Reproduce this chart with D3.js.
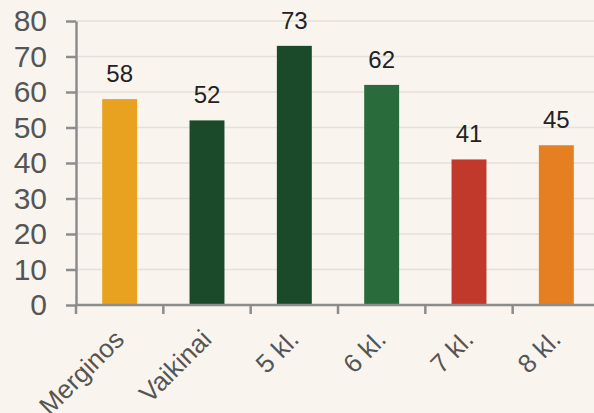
<!DOCTYPE html>
<html>
<head>
<meta charset="utf-8">
<script src="https://cdn.jsdelivr.net/npm/d3@7"></script>
<style>
html,body{margin:0;padding:0;background:#f9f5ee;}
svg{display:block;font-family:"Liberation Sans",Arial,sans-serif;}
</style>
</head>
<body>
<svg id="chart" width="594" height="413"></svg>
<script>
const categories = ["Merginos","Vaikinai","5 kl.","6 kl.","7 kl.","8 kl."];
const values = [58,52,73,62,41,45];
const colors = ["#e8a220","#1b4a2b","#1b4a2b","#2a6b3c","#c0392b","#e67f22"];
const yTicks = [0,10,20,30,40,50,60,70,80];

const svg = d3.select("#chart");
svg.append("rect").attr("width",594).attr("height",413).attr("fill","#f9f5ee");

const x = d3.scaleBand().domain(categories).range([76,600]).paddingInner(0.6).paddingOuter(0.3);
const y = d3.scaleLinear().domain([0,80]).range([305,21]);

// gridlines
svg.append("g").selectAll("line").data(yTicks.slice(1)).join("line")
  .attr("x1",76).attr("x2",600)
  .attr("y1",d=>y(d)).attr("y2",d=>y(d))
  .attr("stroke","#e4e1da").attr("stroke-width",1.5);

// bars
svg.append("g").selectAll("rect").data(categories).join("rect")
  .attr("x",d=>x(d)).attr("width",x.bandwidth())
  .attr("y",(d,i)=>y(values[i])).attr("height",(d,i)=>y(0)-y(values[i]))
  .attr("fill",(d,i)=>colors[i]);

// value labels
svg.append("g").selectAll("text").data(categories).join("text")
  .attr("x",d=>x(d)+x.bandwidth()/2)
  .attr("y",(d,i)=>y(values[i])-17)
  .attr("text-anchor","middle")
  .attr("font-size",24).attr("fill","#222")
  .text((d,i)=>values[i]);

// y axis
const yAxis = svg.append("g").attr("transform","translate(76,0)")
  .call(d3.axisLeft(y).tickValues(yTicks).tickSize(10).tickPadding(19).tickSizeOuter(0));
yAxis.select(".domain").attr("stroke","#8c8c8c").attr("stroke-width",2.5);
yAxis.selectAll(".tick line").attr("stroke","#8c8c8c").attr("stroke-width",2.5);
yAxis.selectAll(".tick text").attr("font-size",30).attr("fill","#555").attr("font-family","Liberation Sans, Arial, sans-serif");

// x axis
const step = x.step();
const xAxis = svg.append("g").attr("transform","translate(0,305)");
xAxis.append("line").attr("x1",76).attr("x2",600).attr("y1",0).attr("y2",0)
  .attr("stroke","#8c8c8c").attr("stroke-width",2.5);
const boundaries = categories.map((d,i)=>x(d)-x.paddingInner()*step/2);
xAxis.selectAll("line.t").data(boundaries).join("line").attr("class","t")
  .attr("x1",d=>d).attr("x2",d=>d).attr("y1",0).attr("y2",9)
  .attr("stroke","#8c8c8c").attr("stroke-width",2.5);
xAxis.selectAll("text").data(categories).join("text")
  .attr("transform",d=>`translate(${x(d)+x.bandwidth()/2+6},36) rotate(-45)`)
  .attr("text-anchor","end")
  .attr("font-size",26).attr("fill","#555")
  .text(d=>d);
</script>
</body>
</html>
